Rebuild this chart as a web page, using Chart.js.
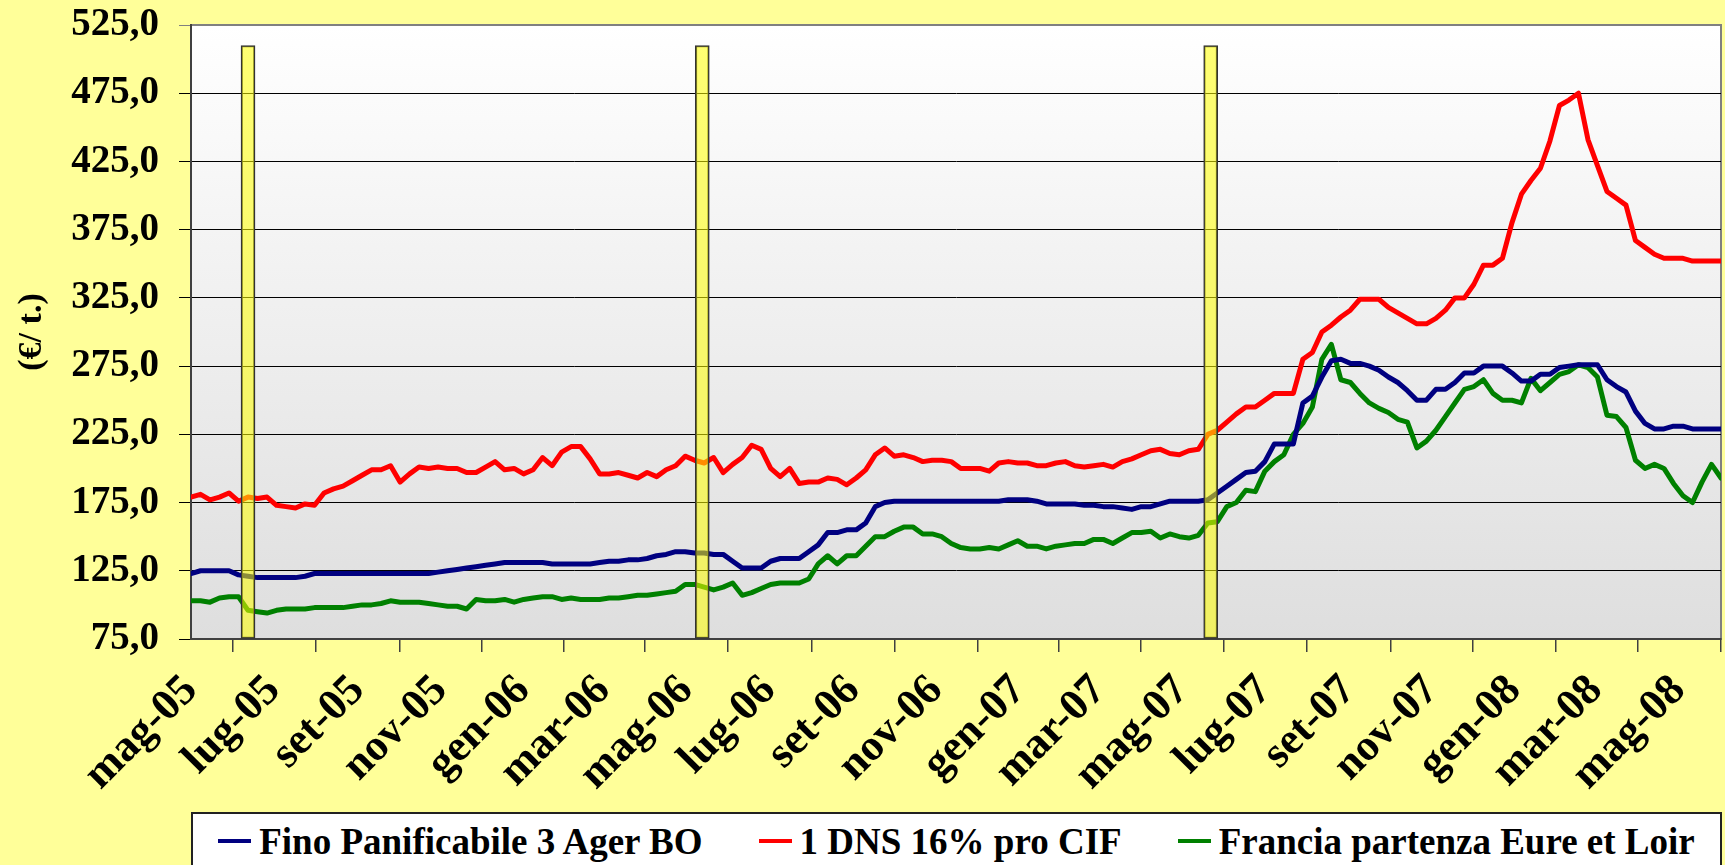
<!DOCTYPE html>
<html lang="it">
<head>
<meta charset="utf-8">
<title>Prezzi frumento</title>
<script src="https://cdn.jsdelivr.net/npm/chart.js@4.4.1/dist/chart.umd.min.js"></script>
<style>
  html, body { margin: 0; padding: 0; background: #ffff99; overflow: hidden; }
  #wrap { position: relative; width: 1725px; height: 865px; }
  #chart { position: absolute; left: 0; top: 0; }
  #legend {
    position: absolute; left: 191px; top: 812px; width: 1531px; height: 58px;
    box-sizing: border-box; background: #fff; border: 2px solid #222;
    display: flex; justify-content: center; align-items: center; gap: 56px;
    font: bold 37px "Liberation Serif", "Times New Roman", serif; color: #000; white-space: nowrap;
  }
  .item { display: flex; align-items: center; }
  .mark { display: inline-block; width: 33px; height: 4px; margin-right: 8px; }
</style>
</head>
<body>
<div id="wrap">
  <canvas id="chart" width="1725" height="865"></canvas>
  <div id="legend"></div>
</div>
<script>
// weekly quotes, first week = 1 May 2005
const startDate = Date.UTC(2005, 4, 1);
const dayMs = 86400000;

const tickLabels = ['mag-05', 'lug-05', 'set-05', 'nov-05', 'gen-06', 'mar-06', 'mag-06', 'lug-06',
  'set-06', 'nov-06', 'gen-07', 'mar-07', 'mag-07', 'lug-07', 'set-07', 'nov-07', 'gen-08', 'mar-08', 'mag-08'];

const seriesNames = ['Fino Panificabile 3 Ager BO', '1 DNS 16% pro CIF', 'Francia partenza Eure et Loir'];
const seriesColors = ['#000080', '#ff0000', '#008000'];

const fino = [
  123, 125, 125, 125, 125, 122, 121, 120, 120, 120,
  120, 120, 121, 123, 123, 123, 123, 123, 123, 123,
  123, 123, 123, 123, 123, 123, 124, 125, 126, 127,
  128, 129, 130, 131, 131, 131, 131, 131, 130, 130,
  130, 130, 130, 131, 132, 132, 133, 133, 134, 136,
  137, 139, 139, 138, 138, 137, 137, 132, 127, 127,
  127, 132, 134, 134, 134, 139, 144, 153, 153, 155,
  155, 160, 172, 175, 176, 176, 176, 176, 176, 176,
  176, 176, 176, 176, 176, 176, 177, 177, 177, 176,
  174, 174, 174, 174, 173, 173, 172, 172, 171, 170,
  172, 172, 174, 176, 176, 176, 176, 177, 182, 187,
  192, 197, 198, 205, 218, 218, 218, 248, 253, 267,
  279, 280, 277, 277, 275, 272, 267, 263, 257, 250,
  250, 258, 258, 263, 270, 270, 275, 275, 275, 270,
  264, 264, 269, 269, 274, 275, 276, 276, 276, 265,
  260, 256, 242, 233, 229, 229, 231, 231, 229, 229,
  229, 229
];

const dns = [
  179, 181, 177, 179, 182, 176, 179, 178, 179, 173,
  172, 171, 174, 173, 182, 185, 187, 191, 195, 199,
  199, 202, 190, 196, 201, 200, 201, 200, 200, 197,
  197, 201, 205, 199, 200, 196, 199, 208, 202, 212,
  216, 216, 207, 196, 196, 197, 195, 193, 197, 194,
  199, 202, 209, 206, 204, 208, 197, 203, 208, 217,
  214, 200, 194, 200, 189, 190, 190, 193, 192, 188,
  193, 199, 210, 215, 209, 210, 208, 205, 206, 206,
  205, 200, 200, 200, 198, 204, 205, 204, 204, 202,
  202, 204, 205, 202, 201, 202, 203, 201, 205, 207,
  210, 213, 214, 211, 210, 213, 214, 225, 228, 234,
  240, 245, 245, 250, 255, 255, 255, 280, 285, 300,
  305, 311, 316, 324, 324, 324, 318, 314, 310, 306,
  306, 310, 316, 325, 325, 335, 349, 349, 354, 380,
  401, 411, 420, 440, 466, 470, 475, 441, 422, 403,
  398, 393, 367, 362, 357, 354, 354, 354, 352, 352,
  352, 352
];

const francia = [
  103, 103, 102, 105, 106, 106, 96, 95, 94, 96,
  97, 97, 97, 98, 98, 98, 98, 99, 100, 100,
  101, 103, 102, 102, 102, 101, 100, 99, 99, 97,
  104, 103, 103, 104, 102, 104, 105, 106, 106, 104,
  105, 104, 104, 104, 105, 105, 106, 107, 107, 108,
  109, 110, 115, 115, 113, 111, 113, 116, 107, 109,
  112, 115, 116, 116, 116, 119, 130, 136, 130, 136,
  136, 143, 150, 150, 154, 157, 157, 152, 152, 150,
  145, 142, 141, 141, 142, 141, 144, 147, 143, 143,
  141, 143, 144, 145, 145, 148, 148, 145, 149, 153,
  153, 154, 149, 152, 150, 149, 151, 160, 161, 172,
  175, 184, 183, 198, 205, 210, 225, 233, 245, 280,
  291, 265, 263, 255, 248, 244, 241, 236, 234, 215,
  220, 228, 238, 248, 258, 260, 265, 255, 250, 250,
  248, 266, 257, 263, 269, 271, 276, 274, 267, 239,
  238, 230, 206, 200, 203, 200, 189, 180, 175, 190,
  203, 193
];

// highlighted weeks (yellow columns)
const highlightWeeks = [6, 53.8, 107.3];
const highlightTop = 510;

const yMin = 75;
const yMax = 525;

const serif = "'Liberation Serif', 'Times New Roman', serif";

const weekDay = i => i * 7;
const toPoints = values => values.map((v, i) => ({ x: weekDay(i), y: v }));
const tickDays = tickLabels.map((_, k) => (Date.UTC(2005, 4 + 2 * k, 1) - startDate) / dayMs);
const lastDay = weekDay(fino.length - 1);

// plot area: grey gradient + frame
const plotBackground = {
    id: 'plotBackground',
    beforeDraw(chart) {
        const { ctx, chartArea: a } = chart;
        const g = ctx.createLinearGradient(0, a.top, 0, a.bottom);
        g.addColorStop(0, '#ffffff');
        g.addColorStop(1, '#dedede');
        ctx.save();
        ctx.fillStyle = g;
        ctx.fillRect(a.left, a.top, a.right - a.left, a.bottom - a.top);
        ctx.strokeStyle = '#808080';
        ctx.lineWidth = 2;
        ctx.strokeRect(a.left, a.top, a.right - a.left, a.bottom - a.top);
        ctx.restore();
    }
};

function lineDataset(values, idx) {
    return {
        type: 'line',
        label: seriesNames[idx],
        data: toPoints(values),
        borderColor: seriesColors[idx],
        backgroundColor: seriesColors[idx],
        borderWidth: 5,
        pointRadius: 0,
        tension: 0,
        fill: false,
        borderJoinStyle: 'round',
        borderCapStyle: 'round'
    };
}

const chart = new Chart(document.getElementById('chart'), {
    type: 'line',
    data: {
        datasets: [
            {
                type: 'bar',
                label: 'evidenza',
                data: highlightWeeks.map(w => ({ x: weekDay(w), y: highlightTop })),
                base: yMin,
                backgroundColor: 'rgba(255, 255, 0, 0.55)',
                borderColor: '#333333',
                borderWidth: 1.5,
                borderSkipped: false,
                barThickness: 14,
                clip: 4
            },
            lineDataset(fino, 0),
            lineDataset(dns, 1),
            lineDataset(francia, 2)
        ]
    },
    options: {
        responsive: false,
        animation: false,
        devicePixelRatio: 1,
        layout: { padding: { top: 25, right: 4, left: 0, bottom: 0 } },
        plugins: {
            legend: { display: false },
            tooltip: { enabled: false }
        },
        scales: {
            x: {
                type: 'linear',
                min: 0,
                max: lastDay,
                offset: false,
                afterBuildTicks(axis) {
                    axis.ticks = tickDays.map(value => ({ value }));
                },
                afterFit(axis) {
                    axis.height = 226;
                    axis.paddingLeft = 0;
                    axis.paddingRight = 0;
                },
                ticks: {
                    autoSkip: false,
                    minRotation: 45,
                    maxRotation: 45,
                    padding: 13,
                    labelOffset: 0,
                    color: '#000',
                    font: { family: serif, size: 44, weight: 'bold' },
                    callback: (value, index) => tickLabels[index]
                },
                grid: { drawOnChartArea: false, color: '#404040', lineWidth: 1.5, tickLength: 13 },
                border: { color: '#404040', width: 2 }
            },
            y: {
                min: yMin,
                max: yMax,
                afterFit(axis) {
                    axis.width = 191;
                    axis.paddingTop = 0;
                    axis.paddingBottom = 0;
                },
                ticks: {
                    stepSize: 50,
                    padding: 20,
                    color: '#000',
                    font: { family: serif, size: 39, weight: 'bold' },
                    callback: v => v.toFixed(1).replace('.', ',')
                },
                grid: {
                    color: ctx => (ctx.tick && ctx.tick.value === yMax ? '#808080' : '#000'),
                    lineWidth: 1,
                    tickLength: 12
                },
                border: { color: '#404040', width: 2 },
                title: {
                    display: true,
                    text: '(€/ t.)',
                    color: '#000',
                    font: { family: serif, size: 34, weight: 'bold' },
                    padding: { top: 12, bottom: 0 }
                }
            }
        }
    },
    plugins: [plotBackground]
});

// HTML legend built from the line datasets
const legendBox = document.getElementById('legend');
chart.data.datasets.filter(ds => ds.type === 'line').forEach(ds => {
    const item = document.createElement('span');
    item.className = 'item';
    const mark = document.createElement('span');
    mark.className = 'mark';
    mark.style.background = ds.borderColor;
    item.appendChild(mark);
    item.appendChild(document.createTextNode(ds.label));
    legendBox.appendChild(item);
});
</script>
</body>
</html>
